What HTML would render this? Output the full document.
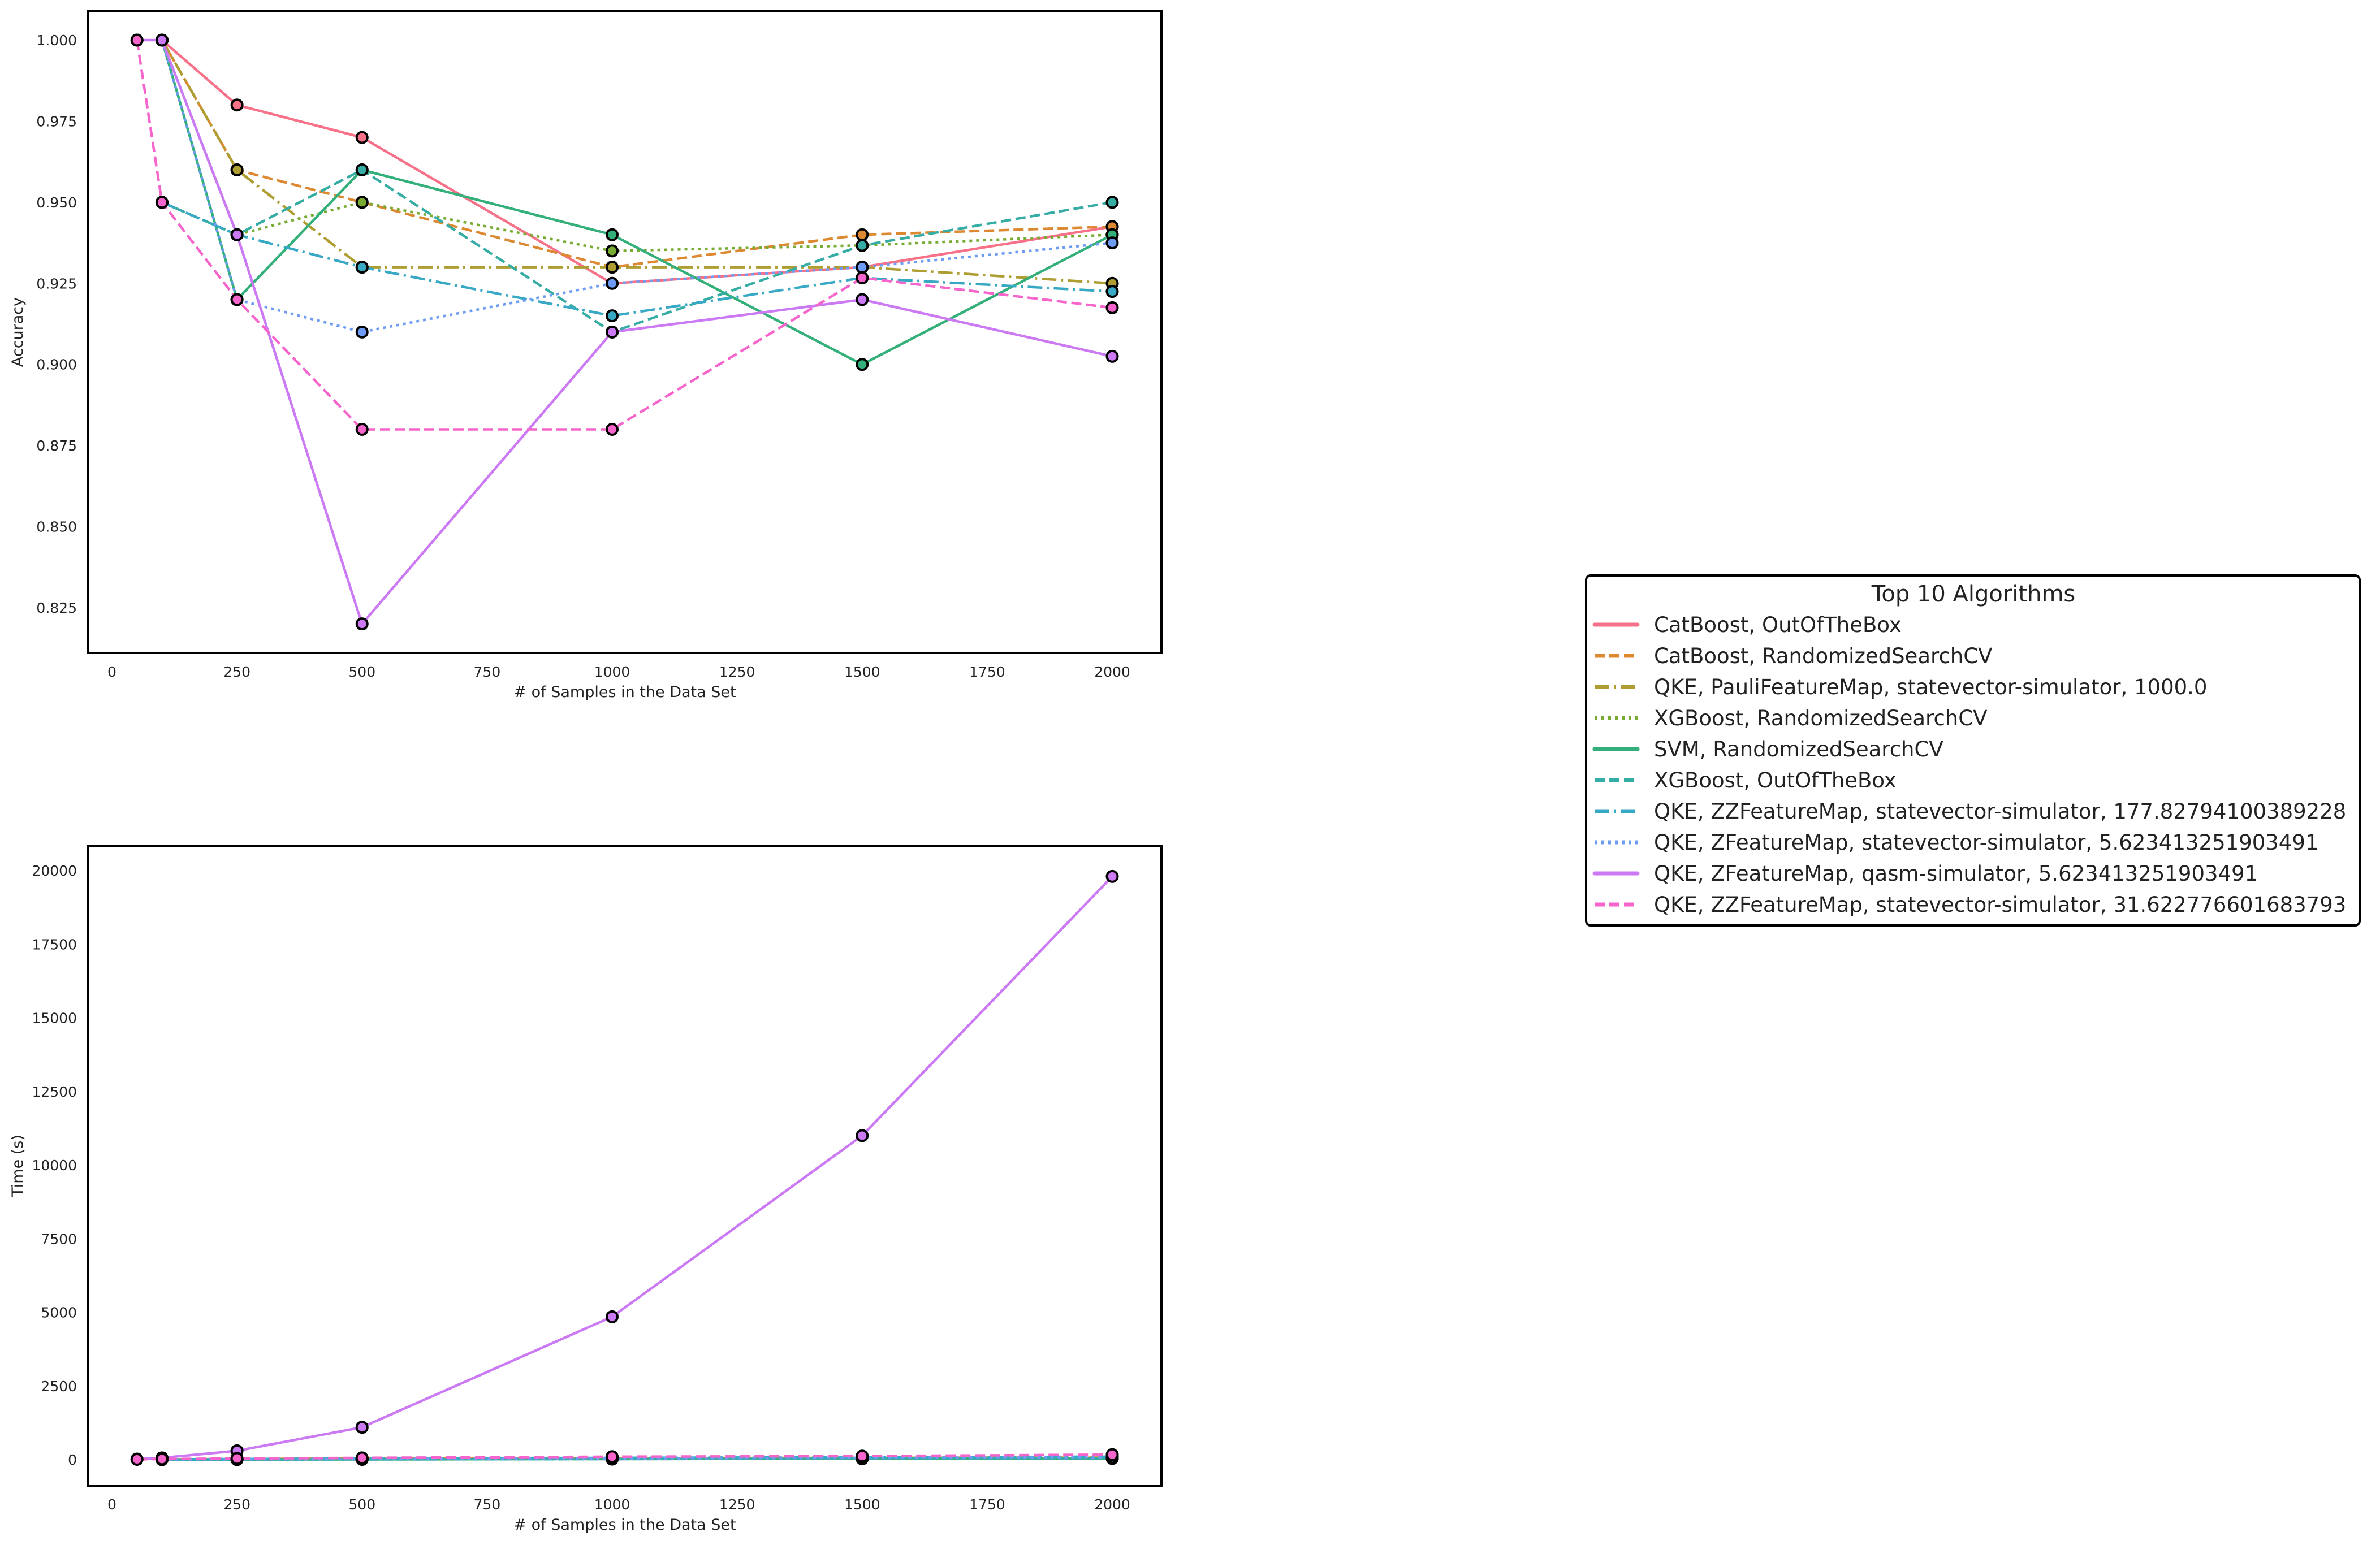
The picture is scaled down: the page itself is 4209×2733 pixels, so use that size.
<!DOCTYPE html>
<html><head><meta charset="utf-8"><style>
html,body{margin:0;padding:0;background:#fff;}
svg{display:block;font-family:"DejaVu Sans","Liberation Sans",sans-serif;}
</style></head><body>
<svg id="fig" width="4209" height="2733" viewBox="0 0 4209 2733" xmlns="http://www.w3.org/2000/svg">
<rect x="0" y="0" width="4209" height="2733" fill="#fff"/>
<g id="acc"></g>
<g id="time"></g>
<g id="legend"></g>
</svg>
<script>
const xs = [50, 100, 250, 500, 1000, 1500, 2000];
const names = ["CatBoost, OutOfTheBox","CatBoost, RandomizedSearchCV","QKE, PauliFeatureMap, statevector-simulator, 1000.0","XGBoost, RandomizedSearchCV","SVM, RandomizedSearchCV","XGBoost, OutOfTheBox","QKE, ZZFeatureMap, statevector-simulator, 177.82794100389228","QKE, ZFeatureMap, statevector-simulator, 5.623413251903491","QKE, ZFeatureMap, qasm-simulator, 5.623413251903491","QKE, ZZFeatureMap, statevector-simulator, 31.622776601683793"];
const colors = ["#f77189","#dc8932","#ae9d31","#77ab31","#33b07a","#36ada4","#38a9c5","#6e9bf4","#cc7af4","#f565cc"];
const dashes = ["", "18 8", "26 8 4 8", "5 7", "", "18 8", "26 8 4 8", "5 7", "", "18 8"];
const acc0 = [null,1.0,0.98,0.97,0.925,0.93,0.9425];
const acc1 = [null,1.0,0.96,0.95,0.93,0.94,0.9425];
const acc2 = [null,1.0,0.96,0.93,0.93,0.93,0.925];
const acc3 = [null,1.0,0.94,0.95,0.935,0.9367,0.94];
const acc4 = [null,1.0,0.92,0.96,0.94,0.90,0.94];
const acc5 = [null,0.95,0.94,0.96,0.91,0.9367,0.95];
const acc6 = [null,0.95,0.94,0.93,0.915,0.9267,0.9225];
const acc7 = [null,1.0,0.92,0.91,0.925,0.93,0.9375];
const acc8 = [1.0,1.0,0.94,0.82,0.91,0.92,0.9025];
const acc9 = [1.0,0.95,0.92,0.88,0.88,0.9267,0.9175];
const accSeries = [acc0,acc1,acc2,acc3,acc4,acc5,acc6,acc7,acc8,acc9];
const time0 = [null,5,10,20,30,40,50];
const time1 = [null,10,20,40,50,60,70];
const time2 = [null,5,10,20,30,40,50];
const time3 = [null,5,10,20,30,40,50];
const time4 = [null,2,5,10,20,30,40];
const time5 = [null,2,5,10,20,30,40];
const time6 = [null,10,20,40,60,80,100];
const time7 = [null,5,10,20,40,60,80];
const time8 = [20,60,300,1100,4850,11000,19800];
const time9 = [10,20,40,60,100,120,170];
const timeSeries = [time0,time1,time2,time3,time4,time5,time6,time7,time8,time9];
const xTicks = [0,250,500,750,1000,1250,1500,1750,2000];
const accTicks = ["0.825","0.850","0.875","0.900","0.925","0.950","0.975","1.000"];
const timeTicks = ["0","2500","5000","7500","10000","12500","15000","17500","20000"];

const NS="http://www.w3.org/2000/svg";
function mk(tag, attrs, parent){const e=document.createElementNS(NS,tag);for(const k in attrs)e.setAttribute(k,attrs[k]);parent.appendChild(e);return e;}
const xScale = v => 198 + v*0.8845;

function drawChart(g, series, ticks, yMin, yMax, yTop, yBot, top, bottom, ylabel, prefix){
  const yScale = v => yBot - (v - yMin)/(yMax - yMin)*(yBot - yTop);
  mk('rect',{x:156,y:top,width:1898,height:bottom-top,fill:'none',stroke:'#000','stroke-width':4},g);
  xTicks.forEach(t=>{
    const e=mk('text',{x:xScale(t),y:bottom+42,'text-anchor':'middle','font-size':25,fill:'#222'},g);
    e.textContent=String(t);
    
    
  });
  ticks.forEach(t=>{
    const e=mk('text',{x:136,y:yScale(parseFloat(t))+9,'text-anchor':'end','font-size':25,fill:'#222'},g);
    e.textContent=t;
    
    
  });
  const xl=mk('text',{x:1105,y:bottom+78,'text-anchor':'middle','font-size':27,fill:'#222'},g);
  xl.textContent="# of Samples in the Data Set";
  
  
  const cy=(top+bottom)/2;
  const yl=mk('text',{x:40,y:cy,'text-anchor':'middle','font-size':27,fill:'#222',transform:`rotate(-90 40 ${cy})`},g);
  yl.textContent=ylabel;
  
  
  series.forEach((s,i)=>{
    let pts=[];
    s.forEach((v,j)=>{ if(v!==null) pts.push([xScale(xs[j]), yScale(v)]); });
    const p=mk('polyline',{points:pts.map(p=>p.join(',')).join(' '),fill:'none',stroke:colors[i],'stroke-width':4.5,'stroke-dasharray':dashes[i]||'none','stroke-linejoin':'round'},g);
    
    
  });
  series.forEach((s,i)=>{
    s.forEach((v,j)=>{ if(v===null) return;
      const c=mk('circle',{cx:xScale(xs[j]),cy:yScale(v),r:9.5,fill:colors[i],stroke:'#000','stroke-width':4},g);
      
      
    });
  });
}
drawChart(document.getElementById('acc'), accSeries, accTicks, 0.825, 1.0, 71, 1075, 20, 1155, "Accuracy", "accuracy-");
drawChart(document.getElementById('time'), timeSeries, timeTicks, 0, 20000, 1540, 2582, 1496, 2628, "Time (s)", "time-");

const lg=document.getElementById('legend');
mk('rect',{x:2805,y:1018,width:1368,height:619,rx:8,fill:'#fff',stroke:'#000','stroke-width':4},lg);
const tt=mk('text',{x:3490,y:1064,'text-anchor':'middle','font-size':40,fill:'#222'},lg);
tt.textContent="Top 10 Algorithms";


names.forEach((n,i)=>{
  const y=1105+i*55;
  const l=mk('line',{x1:2820,y1:y,x2:2896,y2:y,stroke:colors[i],'stroke-width':7,'stroke-dasharray':dashes[i]||'none','stroke-linecap':dashes[i]?'butt':'round'},lg);
  
  
  const t=mk('text',{x:2925,y:y+13,'font-size':37,fill:'#222'},lg);
  t.textContent=n;
  
  
});
</script>
</body></html>
